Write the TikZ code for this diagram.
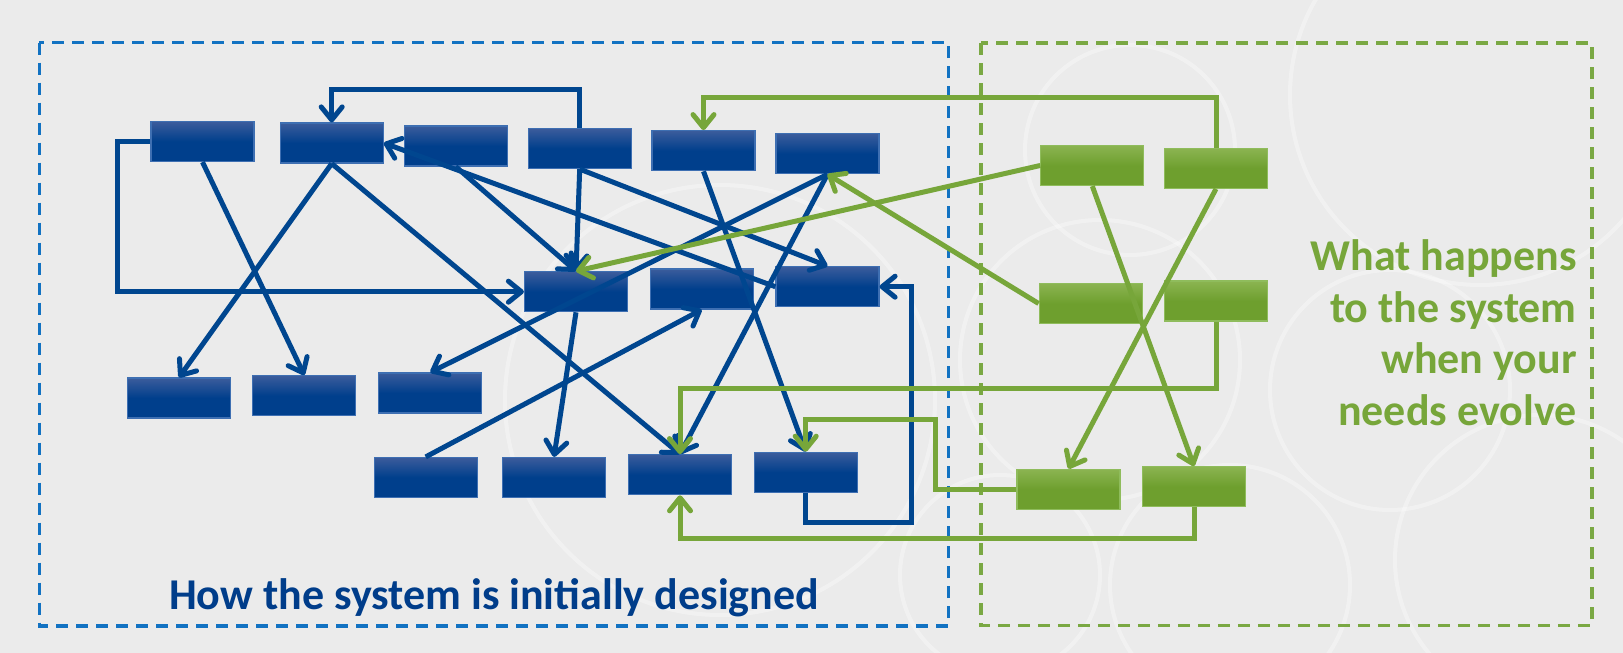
\documentclass[tikz,border=0pt]{standalone}
\usepackage{fontspec}
\setmainfont{Carlito}
\usetikzlibrary{arrows.meta}

\definecolor{bgGray}{HTML}{EBEBEB}
\definecolor{boxBlueTop}{HTML}{3B5C9C}
\definecolor{boxBlue}{HTML}{003F8C}
\definecolor{edgeBlue}{HTML}{3E6FB2}
\definecolor{lineBlue}{HTML}{00468F}
\definecolor{textBlue}{HTML}{003D8A}
\definecolor{dashBlue}{HTML}{1272C2}
\definecolor{boxGreenTop}{HTML}{8BB451}
\definecolor{boxGreen}{HTML}{6E9F2E}
\definecolor{edgeGreen}{HTML}{8FBC5C}
\definecolor{lineGreen}{HTML}{77A63A}
\definecolor{dashGreen}{HTML}{7AA843}

\begin{document}
\begin{tikzpicture}
    [x=1pt, y=-1pt,
     blue box/.style={draw=edgeBlue, line width=1.2pt,
       top color=boxBlueTop, bottom color=boxBlue, middle color=boxBlue,
       minimum width=103pt, minimum height=40pt, inner sep=0pt},
     green box/.style={draw=edgeGreen, line width=1.2pt,
       top color=boxGreenTop, bottom color=boxGreen, middle color=boxGreen,
       minimum width=103pt, minimum height=40pt, inner sep=0pt},
     blue link/.style={->, draw=lineBlue, line width=5pt},
     green link/.style={->, draw=lineGreen, line width=5pt},
     frame/.style={line width=3.5pt, dash pattern=on 12pt off 8pt},
     bg ring/.style={draw=white, opacity=0.35, line width=4pt},
     >={Straight Barb[length=13pt,width=21pt,round]}]

    % background and faint rings
    \fill[bgGray] (0,0) rectangle (1623,653);
    \useasboundingbox (0,0) rectangle (1623,653);
    \foreach \cx/\cy/\r in {720/400/215, 1130/150/105, 1100/360/140, 1480/95/190,
                            1390/390/120, 1000/575/100, 1230/585/120, 1540/560/145}
      \draw[bg ring] (\cx,\cy) circle[radius=\r pt];

    % the two frames
    \draw[frame, draw=dashBlue] (39.4,42.7) rectangle (948.3,626);
    \draw[frame, draw=dashGreen] (981,43) rectangle (1592,625.6);

    % blue blocks
    \foreach \name/\x/\y in {B1/202.5/141.5, B2/331.7/143, B3/455.7/146,
                             B4/579.7/148.5, B5/703.5/150.7, B6/827.5/153.7,
                             M1/576/291.7, M2/701.7/289, M3/827.5/286.7,
                             L1/179/398, L2/304.3/395.7, L3/430.3/393,
                             D1/425.7/477.5, D2/554/477.5, D3/680/474.7, D4/805.7/472.3}
      \node[blue box] (\name) at (\x,\y) {};

    % green blocks
    \foreach \name/\x/\y in {G1/1092.3/165.5, G2/1216/168.3, G3/1090.7/303.5,
                             G4/1216/301, G5/1068.5/489.3, G6/1194/486.7}
      \node[green box] (\name) at (\x,\y) {};

    % initial design
    \draw[blue link] (B1.west) -- ++(-33,0) |- (M1.west);
    \draw[blue link] (B4.north) -- ++(0,-38) -| (B2.north);
    \foreach \a/\b in {B1/L2, B2/L1, B2/D3, B3/M1, B4/M1, B4/M3, B5/D4, B6/L3, B6/D3, M1/D2}
      \draw[blue link] (\a.south) -- (\b.north);
    \draw[blue link] (M3.west) -- (B2.east);
    \draw[blue link] (D1.north) -- (M2.south);
    \draw[blue link] (D4.south) -- ++(0,29.5) -| ([xshift=32pt]M3.east) -- (M3.east);

    % changes
    \draw[green link] (G2.north) -- ++(0,-50) -| (B5.north);
    \draw[green link] (G1.west) -- (M1.north);
    \draw[green link] (G3.west) -- (B6.south);
    \draw[green link] (G1.south) -- (G6.north);
    \draw[green link] (G2.south) -- (G5.north);
    \draw[green link] (G4.south) -- ++(0,66.7) -| (D3.north);
    \draw[green link] (G5.west) -- ++(-80.7,0) -- ++(0,-70) -| (D4.north);
    \draw[green link] (G6.south) -- ++(0,31.5) -| (D3.south);

    % captions
    \node[font=\bfseries\fontsize{44}{53}\selectfont, text=textBlue, anchor=base,
          inner sep=0pt] (initial) at (494,609.3) {How the system is initially designed};
    \node[font=\bfseries\fontsize{44}{51.4}\selectfont, text=lineGreen, align=right,
          anchor=base east, inner sep=0pt] (evolve) at (1576.8,425)
          {What happens\\to the system\\when your\\needs evolve};
  \end{tikzpicture}
\end{document}
